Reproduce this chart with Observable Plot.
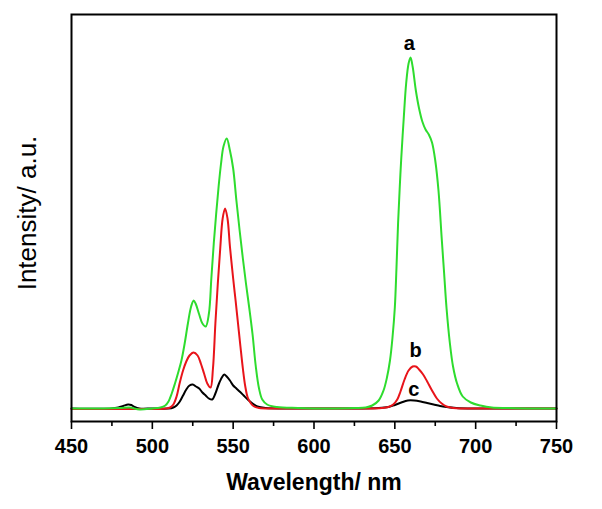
<!DOCTYPE html>
<html><head><meta charset="utf-8">
<script src="https://cdn.jsdelivr.net/npm/d3@7"></script>
<script src="https://cdn.jsdelivr.net/npm/@observablehq/plot@0.6"></script>
<style>body{margin:0;background:#fff}</style>
</head><body><div id="chart"></div>
<script>
// Series a (green)
const wavelengthA = [450,470,480,486,492,500,505,508,510,512,514,516,518,520,522,524,525.6,527,529,531,533,535,536.5,538,539.5,541,542.5,544,546,548,550,552,554,556,558,560,562,564,566,568,571,577,590,610,625,632,636,640,643,645,647,648.5,650,651,652,653,654,655.5,657,658.5,659.7,661,663,665,667,669,671,673,675,677,679,680.5,682,684,686,688.5,692,697,703,710,720,735,750];
const intensityA  = [0,0,0.5,1,-1,0,1,3,7,15,25,36,48,65,85,102,108,104,94,85,82,95,130,165,195,222,245,262,270,258,240,208,178,150,124,100,74,42,20,9,4,1.5,0.5,0,0.5,1,3,8,18,30,48,70,101,140,185,220,251,290,325,345,351,342,318,300,287,279,274,266,248,218,170,135,100,66,42,25,12,6,3,1,0.5,0,0];
// Series b (red)
const wavelengthB = [450,480,500,508,511,513,515,517,519,521,523,525.5,528,530,532,534,536,537.5,539,540.5,542,543.5,545,546.5,548,550,551.5,553,554.5,556,557.5,559,561,563,566,575,600,630,642,646,649,651.5,653.5,656,658.5,661,663,665,667.5,670,673,676,679,682,686,692,710,750];
const intensityB  = [-0.5,-0.5,-0.5,0,1,4,12,26,38,47,53,56,53,45,35,25,21,40,85,125,160,190,200,190,162,130,108,85,62,40,22,11,5,2,0.5,0,0,0,0.5,1.5,4,9,17,29,38,42,42,39,34,27,18,10,5,2,0.5,0,0,0];
// Series c (black)
const wavelengthC = [450,475,479,482,485,487,489,492,500,510,513,515,517,519,521,523,525,527,529,531,533,535,537,539,541,543,544.5,546,548,550,552,554,556.5,559,562,565,570,590,620,640,646,650,654,658,662,666,670,674,678,682,688,700,750];
const intensityC  = [0,0,1,2.5,4,3.5,1.5,0,0,0,1,3,7,13,19,23,24,22,20,16,13,10,9,15,24,31,34,32,28,23,20,17,13,9,5,2,0.5,0,0,0.5,1.5,3.5,6,8,8,7,5.5,4,2.5,1.5,0.5,0,0];

const seriesNames = ["a", "b", "c"];
const seriesColors = ["#2edc2e", "#e8141a", "#000000"];
const majorTicks = [450, 500, 550, 600, 650, 700, 750];
const minorTicks = [475, 525, 575, 625, 675, 725];
const labelWavelength = [659, 662.8, 661.7];
const labelIntensity = [365, 58, 19];
const xTitle = "Wavelength/ nm";
const yTitle = "Intensity/ a.u.";

const rows = (w, v, s) => w.map((x, i) => ({wavelength: x, intensity: v[i], series: s}));
const data = [
  ...rows(wavelengthC, intensityC, "c"),
  ...rows(wavelengthB, intensityB, "b"),
  ...rows(wavelengthA, intensityA, "a")
];
const labels = seriesNames.map((s, i) => ({name: s, wavelength: labelWavelength[i], intensity: labelIntensity[i]}));

const chart = Plot.plot({
  width: 602, height: 509,
  marginTop: 14, marginLeft: 71, marginRight: 46, marginBottom: 88,
  style: {fontFamily: "'Liberation Sans', Arial, sans-serif", background: "white", color: "black"},
  x: {domain: [450, 750]},
  y: {domain: [-13, 394]},
  color: {domain: seriesNames, range: seriesColors},
  marks: [
    Plot.line(data, {x: "wavelength", y: "intensity", z: "series", stroke: "series", strokeWidth: 2, curve: "catmull-rom"}),
    Plot.frame({stroke: "black", strokeWidth: 2}),
    Plot.axisX(majorTicks, {tickSize: 8, tickPadding: 9, fontSize: 20, fontWeight: "bold", label: null, strokeWidth: 1.6}),
    Plot.axisX(minorTicks, {tickSize: 5, tickFormat: () => "", label: null, strokeWidth: 1.6}),
    Plot.axisY({ticks: [], label: null}),
    Plot.text([xTitle], {frameAnchor: "bottom", dy: 68, fontSize: 23, fontWeight: "bold"}),
    Plot.text([yTitle], {frameAnchor: "left", textAnchor: "middle", dx: -44, dy: -5, rotate: -90, fontSize: 26}),
    Plot.text(labels, {x: "wavelength", y: "intensity", text: "name", fontSize: 20, fontWeight: "bold"})
  ]
});
document.getElementById("chart").appendChild(chart);
</script>
</body></html>
